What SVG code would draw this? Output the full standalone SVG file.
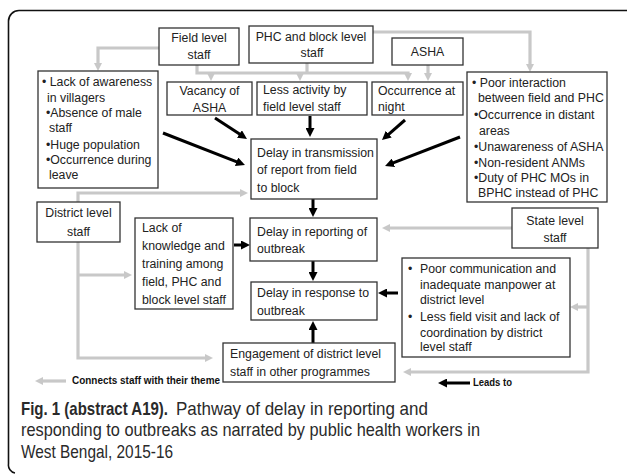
<svg xmlns="http://www.w3.org/2000/svg" width="627" height="474" viewBox="0 0 627 474">
<style>
.box{fill:#fff;stroke:#333;stroke-width:1.3}
.t{font-family:"Liberation Sans",Arial,sans-serif;font-size:12.3px;fill:#222}
.c{text-anchor:middle}
.g{fill:none;stroke:#c8c8c8;stroke-width:3.2;marker-end:url(#ga)}
.gn{fill:none;stroke:#c8c8c8;stroke-width:3.2}
.b{fill:none;stroke:#000;stroke-width:3;marker-end:url(#ba)}
.lg{font-family:"Liberation Sans",Arial,sans-serif;font-size:10.5px;font-weight:bold;fill:#111}
.cap{font-family:"Liberation Sans",Arial,sans-serif;font-size:18px;fill:#2a2a2a}
</style>
<defs>
<marker id="ga" viewBox="0 0 8 8" markerWidth="8" markerHeight="8" markerUnits="userSpaceOnUse" refX="1" refY="4" orient="auto"><path d="M0,0 L8,4 L0,8 z" fill="#c8c8c8"/></marker>
<marker id="ba" viewBox="0 0 9 9" markerWidth="9" markerHeight="9" markerUnits="userSpaceOnUse" refX="1" refY="4.5" orient="auto"><path d="M0,0 L9,4.5 L0,9 z" fill="#000"/></marker>
</defs>
<rect width="627" height="474" fill="#fff"/>
<path d="M627,10.5 H19 A10.5,10.5 0 0 0 8.5,21 V464 A8,8 0 0 0 15,473" fill="none" stroke="#111" stroke-width="1.6"/>

<g id="connectors">
<path class="g" d="M159,48 H98 V64"/>
<path class="g" d="M197,65 V73 H408 V74"/>
<path class="g" d="M211,73 V74"/>
<path class="g" d="M300,73 V74"/>
<path class="gn" d="M307,63 V73"/>
<path class="g" d="M428,65 V74"/>
<path class="g" d="M373,32 H530 V65"/>
<path class="g" d="M78,202 V193 H241"/>
<path class="g" d="M78,242 V358 H206"/>
<path class="g" d="M78,275 H125"/>
<path class="g" d="M512,228 H389"/>
<path class="g" d="M588,248 V372 H410"/>
<path class="g" d="M588,307 H577"/>
<path class="b" d="M215,118 L240.3,134.6"/>
<path class="b" d="M163,133 L237.5,162.1"/>
<path class="b" d="M310,116 V129"/>
<path class="b" d="M405,120 L388,134.8"/>
<path class="b" d="M460,137 L392.5,163.1"/>
<path class="b" d="M313,199 V209"/>
<path class="b" d="M313,261 V273"/>
<path class="b" d="M234,245 H242"/>
<path class="b" d="M398,293 H386"/>
<path class="b" d="M313,343 V329"/>
<path class="g" d="M66,381 H42"/>
<path class="b" d="M470,383 H446"/>
</g>

<g id="field">
<rect class="box" x="159" y="28" width="80" height="37"/>
<text class="t c" x="199" y="42">Field level</text>
<text class="t c" x="199" y="59">staff</text>
</g>
<g id="phc">
<rect class="box" x="249" y="26" width="124" height="37"/>
<text class="t c" x="311" y="41">PHC and block level</text>
<text class="t c" x="312" y="57">staff</text>
</g>
<g id="asha">
<rect class="box" x="392" y="38" width="71" height="27"/>
<text class="t c" x="427.5" y="56">ASHA</text>
</g>
<g id="left-factors">
<rect class="box" x="38" y="71" width="120" height="117"/>
<text class="t" x="42" y="86">• Lack of awareness</text>
<text class="t" x="47" y="102">in villagers</text>
<text class="t" x="46" y="117">•Absence of male</text>
<text class="t" x="49" y="132">staff</text>
<text class="t" x="46" y="149">•Huge population</text>
<text class="t" x="46" y="164">•Occurrence during</text>
<text class="t" x="49" y="179">leave</text>
</g>
<g id="vacancy">
<rect class="box" x="167" y="82" width="85" height="33"/>
<text class="t c" x="209.5" y="95">Vacancy of</text>
<text class="t c" x="209.5" y="112">ASHA</text>
</g>
<g id="less-activity">
<rect class="box" x="257" y="82" width="110" height="33"/>
<text class="t" x="263" y="94">Less activity by</text>
<text class="t" x="263" y="111">field level staff</text>
</g>
<g id="night">
<rect class="box" x="372" y="82" width="91" height="33"/>
<text class="t" x="378" y="95">Occurrence at</text>
<text class="t" x="378" y="111">night</text>
</g>
<g id="right-factors">
<rect class="box" x="467" y="72" width="140" height="130"/>
<text class="t" x="472" y="87">• Poor interaction</text>
<text class="t" x="478" y="102">between field and PHC</text>
<text class="t" x="474" y="119">•Occurrence in distant</text>
<text class="t" x="479" y="135">areas</text>
<text class="t" x="474" y="151">•Unawareness of ASHA</text>
<text class="t" x="474" y="167">•Non-resident ANMs</text>
<text class="t" x="474" y="182">•Duty of PHC MOs in</text>
<text class="t" x="478" y="197">BPHC instead of PHC</text>
</g>
<g id="transmission">
<rect class="box" x="251" y="139" width="126" height="60"/>
<text class="t" x="257" y="157">Delay in transmission</text>
<text class="t" x="257" y="174">of report from field</text>
<text class="t" x="257" y="192">to block</text>
</g>
<g id="district">
<rect class="box" x="37" y="202" width="83" height="40"/>
<text class="t c" x="78.5" y="217">District level</text>
<text class="t c" x="78.5" y="236">staff</text>
</g>
<g id="knowledge">
<rect class="box" x="135" y="218" width="98" height="91"/>
<text class="t" x="142" y="232">Lack of</text>
<text class="t" x="142" y="250">knowledge and</text>
<text class="t" x="142" y="268">training among</text>
<text class="t" x="142" y="286">field, PHC and</text>
<text class="t" x="142" y="304">block level staff</text>
</g>
<g id="reporting">
<rect class="box" x="250" y="218" width="127" height="43"/>
<text class="t" x="257" y="236">Delay in reporting of</text>
<text class="t" x="257" y="253">outbreak</text>
</g>
<g id="response">
<rect class="box" x="251" y="282" width="126" height="38"/>
<text class="t" x="257" y="297">Delay in response to</text>
<text class="t" x="257" y="315">outbreak</text>
</g>
<g id="engagement">
<rect class="box" x="223" y="343" width="172" height="39"/>
<text class="t" x="230" y="358">Engagement of district level</text>
<text class="t" x="230" y="376">staff in other programmes</text>
</g>
<g id="state">
<rect class="box" x="512" y="208" width="86" height="40"/>
<text class="t c" x="555" y="225">State level</text>
<text class="t c" x="555" y="242">staff</text>
</g>
<g id="communication">
<rect class="box" x="402" y="258" width="168" height="99"/>
<text class="t" x="408" y="273">•</text>
<text class="t" x="420" y="273">Poor communication and</text>
<text class="t" x="420" y="289">inadequate manpower at</text>
<text class="t" x="420" y="304">district level</text>
<text class="t" x="408" y="321">•</text>
<text class="t" x="420" y="321">Less field visit and lack of</text>
<text class="t" x="420" y="337">coordination by district</text>
<text class="t" x="420" y="351">level staff</text>
</g>

<g id="legend" transform="scale(0.82,1)">
<text class="lg" x="87.8" y="384.5" textLength="180.5" lengthAdjust="spacingAndGlyphs">Connects staff with their theme</text>
<text class="lg" x="576.8" y="386.5" textLength="47.6" lengthAdjust="spacingAndGlyphs">Leads to</text>
</g>

<g id="caption" transform="scale(0.82,1)">
<text class="cap" x="25.6" y="415" font-weight="bold" fill="#111" textLength="179.3" lengthAdjust="spacingAndGlyphs">Fig. 1 (abstract A19).</text>
<text class="cap" x="214.6" y="415" textLength="307.3" lengthAdjust="spacingAndGlyphs">Pathway of delay in reporting and</text>
<text class="cap" x="25.6" y="436.5" textLength="559.8" lengthAdjust="spacingAndGlyphs">responding to outbreaks as narrated by public health workers in</text>
<text class="cap" x="25.6" y="458" textLength="185.4" lengthAdjust="spacingAndGlyphs">West Bengal, 2015-16</text>
</g>
</svg>
